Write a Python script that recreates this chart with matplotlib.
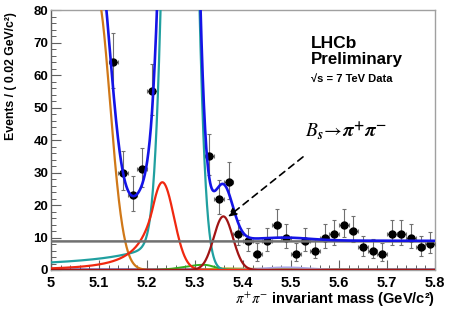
import numpy as np
import matplotlib
matplotlib.use('Agg')
import matplotlib.pyplot as plt

plt.rcParams['font.family'] = ['Liberation Sans', 'DejaVu Sans']
plt.rcParams['mathtext.fontset'] = 'stix'

## data points (bin centres, events per 0.02 GeV) ##
mass = [5.13, 5.15, 5.17, 5.19, 5.21, 5.33, 5.35, 5.37, 5.39, 5.41,
        5.43, 5.45, 5.47, 5.49, 5.51, 5.53, 5.55, 5.57, 5.59, 5.61,
        5.63, 5.65, 5.67, 5.69, 5.71, 5.73, 5.75, 5.77, 5.79]
events = [64, 30, 23, 31, 55, 35, 22, 27, 11, 9,
          5, 9, 14, 10, 5, 9, 6, 10, 11, 14,
          12, 7, 6, 5, 11, 11, 10, 7, 8]
err_up = [9.0, 6.5, 5.8, 6.6, 8.4, 6.9, 5.7, 6.2, 4.3, 4.0,
          3.2, 4.0, 4.7, 4.2, 3.2, 4.0, 3.4, 4.2, 4.3, 4.7,
          4.5, 3.6, 3.4, 3.2, 4.3, 4.3, 4.2, 3.6, 3.8]
err_dn = [8.0, 5.5, 4.8, 5.6, 7.4, 5.9, 4.7, 5.2, 3.3, 3.0,
          2.2, 3.0, 3.7, 3.2, 2.2, 3.0, 2.4, 3.2, 3.3, 3.7,
          3.5, 2.6, 2.4, 2.2, 3.3, 3.3, 3.2, 2.6, 2.8]

## fit component parameters ##
orange_pars = [85, 5.095, 0.028]              # amp, mean, sigma (right side)
teal_pars = [350, 5.270, 0.024, 0.023]        # amp, mean, sigma L, sigma R
teal_tail = [0.7, 5.30, 5.22, 0.012]          # k, x0, cut, width
red_pars = [27, 5.232, 0.024, 0.8, 3.0]       # amp, mean, sigma, alpha, n
maroon_pars = [16.5, 5.359, 0.020]
green_pars = [1.6, 5.318, 0.040, 0.022]
bump_pars = [0.8, 5.49, 0.05]
olive_pars = [0.4, 5.40, 0.15, 5.33]
navy_level = 0.15
flat_level = 8.8

xticks = [5.0, 5.1, 5.2, 5.3, 5.4, 5.5, 5.6, 5.7, 5.8]
xticklabels = ['5', '5.1', '5.2', '5.3', '5.4', '5.5', '5.6', '5.7', '5.8']
yticks = [0, 10, 20, 30, 40, 50, 60, 70, 80]


def gauss(x, a, mu, s):
    return a * np.exp(-0.5 * ((x - mu) / s) ** 2)

def bgauss(x, a, mu, sl, sr):
    s = np.where(x < mu, sl, sr)
    return a * np.exp(-0.5 * ((x - mu) / s) ** 2)

def crystal_ball(x, a, mu, s, alpha, n):
    t = (x - mu) / s
    out = np.exp(-0.5 * t ** 2)
    A = (n / alpha) ** n * np.exp(-0.5 * alpha ** 2)
    B = n / alpha - alpha
    tail = t < -alpha
    out[tail] = A / (B - t[tail]) ** n
    return a * out


x = np.linspace(5.0, 5.8, 1601)
a, mu, s = orange_pars
orange = np.where(x < mu, a * np.exp((mu - x) * 10), gauss(x, a, mu, s))
k, x0, xc, w = teal_tail
dist = np.where(x < x0 - 0.005, x0 - x, 0.005)
teal = bgauss(x, *teal_pars) + k / dist / (1 + np.exp((x - xc) / w))
red = crystal_ball(x, *red_pars)
maroon = gauss(x, *maroon_pars)
green = bgauss(x, *green_pars)
bump = gauss(x, *bump_pars)
a, m0, sl, cut = olive_pars
olive = a * np.exp(-(x - m0) / sl) / (1 + np.exp(-(x - cut) / 0.01))
navy = np.full_like(x, navy_level)
flat = np.full_like(x, flat_level)
total = orange + teal + red + maroon + green + bump + olive + navy + flat


fig = plt.figure(figsize=(4.54, 3.15), dpi=100)
ax = fig.add_axes([51 / 454, 45 / 315, 384 / 454, 260 / 315])

# data
ax.errorbar(mass, events, yerr=[err_dn, err_up], xerr=0.01, fmt='o', color='black',
            ms=5, ecolor='#707070', elinewidth=0.8, capsize=1.5, capthick=0.8, zorder=3)

# components
ax.plot(x, navy, color='#4848b8', lw=1.6, zorder=4)
ax.plot(x, olive, color='#a8a820', lw=1.4, zorder=4)
ax.plot(x, bump, color='#a8a8e8', lw=1.4, zorder=4)
ax.plot(x, green, color='#30b020', lw=1.4, zorder=4)
ax.plot(x, orange, color='#d07818', lw=1.6, zorder=4)
ax.plot(x, teal, color='#20a0a0', lw=1.6, zorder=4)
ax.plot(x, red, color='#f02810', lw=1.6, zorder=4)
ax.plot(x, maroon, color='#a01414', lw=1.6, zorder=4)
ax.plot(x, flat, color='#707070', lw=1.8, zorder=4)
ax.plot(x, total, color='#1414e6', lw=1.9, zorder=5)

ax.set_xlim(5.0, 5.8)
ax.set_ylim(0, 80)
ax.set_xticks(xticks)
ax.set_xticklabels(xticklabels)
ax.set_yticks(yticks)
ax.set_xticks(np.arange(5.0, 5.801, 0.02), minor=True)
ax.set_yticks(np.arange(0, 81, 2), minor=True)
ax.tick_params(which='both', direction='in', color='#606060', top=False, right=False)
ax.tick_params(which='major', length=7, width=0.8)
ax.tick_params(which='minor', length=3.5, width=0.7)
ax.tick_params(axis='y', labelsize=9.5, pad=2)
ax.tick_params(axis='x', labelsize=10.5, pad=4)
for lab in ax.get_xticklabels() + ax.get_yticklabels():
    lab.set_fontweight('bold')
for sp in ax.spines.values():
    sp.set_color('#a0a0a0')
    sp.set_linewidth(1)
ax.spines['left'].set_color('#606060')

ax.set_ylabel('Events / ( 0.02 GeV/c²)', fontsize=8.8, fontweight='bold', loc='top')
ax.yaxis.set_label_coords(-0.088, 0.992)
ax.set_xlabel(r'$\pi^{+}\pi^{-}$ invariant mass (GeV/c²)', fontsize=10.5,
              fontweight='bold', loc='right', labelpad=1)

# labels
fig.text(311 / 454, 1 - 47.7 / 315, 'LHCb', fontsize=12.5, fontweight='bold', va='baseline')
fig.text(311 / 454, 1 - 64.5 / 315, 'Preliminary', fontsize=12.2, fontweight='bold', va='baseline')
fig.text(311 / 454, 1 - 82 / 315, '√s = 7 TeV Data', fontsize=8, fontweight='bold', va='baseline')
fig.text(305 / 454, 1 - 137 / 315, r'$B_{\boldsymbol{s}}\!\rightarrow\!\boldsymbol{\pi}^{\mathbf{+}}\boldsymbol{\pi}^{\mathbf{-}}$',
         fontsize=14, va='baseline')

# dashed arrow to the Bs peak
ax.annotate('', xy=(5.369, 16.4), xytext=(5.525, 34.8),
            arrowprops=dict(arrowstyle='-|>', linestyle=(0, (4, 3)), color='black', lw=1.2,
                            mutation_scale=12, shrinkA=0, shrinkB=0), zorder=6)

plt.savefig('out.png', dpi=100)
